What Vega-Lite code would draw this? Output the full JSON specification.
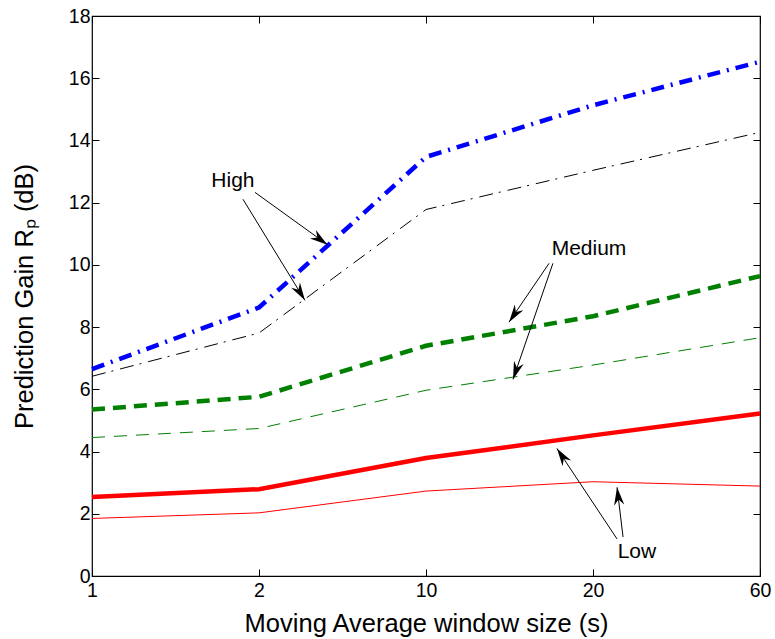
{
  "$schema": "https://vega.github.io/schema/vega-lite/v6.json",
  "width": 668,
  "height": 560,
  "autosize": "none",
  "padding": {"left": 92, "top": 16, "right": 15, "bottom": 63},
  "background": "white",
  "config": {
    "font": "Liberation Sans",
    "view": {"stroke": "black", "strokeWidth": 1.2},
    "axis": {
      "grid": false,
      "domain": false,
      "tickColor": "black",
      "tickWidth": 1,
      "tickSize": -7,
      "labelFlush": false,
      "labelColor": "black",
      "labelFont": "Liberation Sans",
      "labelFontSize": 19.5,
      "titleColor": "black",
      "titleFont": "Liberation Sans",
      "titleFontSize": 25.5,
      "titleFontWeight": "normal"
    }
  },
  "datasets": {
    "gain": [
      {"window": 1, "step": 0, "level": "High", "line": "bold", "gain": 6.65},
      {"window": 2, "step": 1, "level": "High", "line": "bold", "gain": 8.63},
      {"window": 10, "step": 2, "level": "High", "line": "bold", "gain": 13.47},
      {"window": 20, "step": 3, "level": "High", "line": "bold", "gain": 15.13},
      {"window": 60, "step": 4, "level": "High", "line": "bold", "gain": 16.53},
      {"window": 1, "step": 0, "level": "High", "line": "thin", "gain": 6.42},
      {"window": 2, "step": 1, "level": "High", "line": "thin", "gain": 7.81},
      {"window": 10, "step": 2, "level": "High", "line": "thin", "gain": 11.78},
      {"window": 20, "step": 3, "level": "High", "line": "thin", "gain": 13.04},
      {"window": 60, "step": 4, "level": "High", "line": "thin", "gain": 14.26},
      {"window": 1, "step": 0, "level": "Medium", "line": "bold", "gain": 5.35},
      {"window": 2, "step": 1, "level": "Medium", "line": "bold", "gain": 5.76},
      {"window": 10, "step": 2, "level": "Medium", "line": "bold", "gain": 7.40},
      {"window": 20, "step": 3, "level": "Medium", "line": "bold", "gain": 8.35},
      {"window": 60, "step": 4, "level": "Medium", "line": "bold", "gain": 9.64},
      {"window": 1, "step": 0, "level": "Medium", "line": "thin", "gain": 4.45},
      {"window": 2, "step": 1, "level": "Medium", "line": "thin", "gain": 4.74},
      {"window": 10, "step": 2, "level": "Medium", "line": "thin", "gain": 5.97},
      {"window": 20, "step": 3, "level": "Medium", "line": "thin", "gain": 6.78},
      {"window": 60, "step": 4, "level": "Medium", "line": "thin", "gain": 7.66},
      {"window": 1, "step": 0, "level": "Low", "line": "bold", "gain": 2.54},
      {"window": 2, "step": 1, "level": "Low", "line": "bold", "gain": 2.79},
      {"window": 10, "step": 2, "level": "Low", "line": "bold", "gain": 3.79},
      {"window": 20, "step": 3, "level": "Low", "line": "bold", "gain": 4.52},
      {"window": 60, "step": 4, "level": "Low", "line": "bold", "gain": 5.22},
      {"window": 1, "step": 0, "level": "Low", "line": "thin", "gain": 1.85},
      {"window": 2, "step": 1, "level": "Low", "line": "thin", "gain": 2.03},
      {"window": 10, "step": 2, "level": "Low", "line": "thin", "gain": 2.73},
      {"window": 20, "step": 3, "level": "Low", "line": "thin", "gain": 3.03},
      {"window": 60, "step": 4, "level": "Low", "line": "thin", "gain": 2.89}
    ],
    "labels": [
      {"text": "High", "step": 0.844, "gain": 12.69},
      {"text": "Medium", "step": 2.976, "gain": 10.50},
      {"text": "Low", "step": 3.263, "gain": 0.76}
    ],
    "arrows": [
      {"level": "High", "step": 0.976, "gain": 12.33, "tipStep": 1.41, "tipGain": 10.65, "angle": 125.6},
      {"level": "High", "step": 0.904, "gain": 12.11, "tipStep": 1.275, "tipGain": 8.86, "angle": 148.5},
      {"level": "Medium", "step": 2.737, "gain": 10.05, "tipStep": 2.497, "tipGain": 8.16, "angle": 214.1},
      {"level": "Medium", "step": 2.760, "gain": 10.05, "tipStep": 2.521, "tipGain": 6.32, "angle": 199.0},
      {"level": "Low", "step": 3.144, "gain": 1.19, "tipStep": 2.784, "tipGain": 4.10, "angle": 326.3},
      {"level": "Low", "step": 3.180, "gain": 1.25, "tipStep": 3.144, "tipGain": 2.85, "angle": 353.2}
    ]
  },
  "resolve": {"axis": {"x": "independent", "y": "independent"}},
  "layer": [
    {
      "data": {"name": "gain"},
      "transform": [{"filter": "datum.level === 'High' && datum.line === 'bold'"}],
      "mark": {"type": "line", "color": "#0000ff", "strokeWidth": 4.5, "strokeDash": [13, 7, 2, 7], "strokeCap": "butt"},
      "encoding": {
        "x": {
          "field": "step", "type": "quantitative",
          "scale": {"domain": [0, 4], "nice": false, "zero": false},
          "axis": {
            "orient": "bottom",
            "values": [0, 1, 2, 3, 4],
            "labelExpr": "datum.value == 0 ? '1' : datum.value == 1 ? '2' : datum.value == 2 ? '10' : datum.value == 3 ? '20' : '60'",
            "labelPadding": 12,
            "title": "Moving Average window size (s)",
            "titlePadding": 12
          }
        },
        "y": {
          "field": "gain", "type": "quantitative",
          "scale": {"domain": [0, 18], "nice": false},
          "axis": {
            "orient": "left",
            "values": [0, 2, 4, 6, 8, 10, 12, 14, 16, 18],
            "labelPadding": 9,
            "title": "Prediction Gain Rₚ (dB)",
            "titlePadding": 31
          }
        }
      }
    },
    {
      "data": {"name": "gain"},
      "transform": [{"filter": "datum.level === 'High' && datum.line === 'thin'"}],
      "mark": {"type": "line", "color": "#000000", "strokeWidth": 1, "strokeDash": [14, 6, 2, 7], "strokeCap": "butt"},
      "encoding": {
        "x": {"field": "step", "type": "quantitative", "axis": {"orient": "top", "values": [0, 1, 2, 3, 4], "labels": false, "title": null}},
        "y": {"field": "gain", "type": "quantitative", "axis": {"orient": "right", "values": [0, 2, 4, 6, 8, 10, 12, 14, 16, 18], "labels": false, "title": null}}
      }
    },
    {
      "data": {"name": "gain"},
      "transform": [{"filter": "datum.level === 'Medium' && datum.line === 'bold'"}],
      "mark": {"type": "line", "color": "#008000", "strokeWidth": 4.5, "strokeDash": [13, 8], "strokeCap": "butt"},
      "encoding": {
        "x": {"field": "step", "type": "quantitative", "axis": null},
        "y": {"field": "gain", "type": "quantitative", "axis": null}
      }
    },
    {
      "data": {"name": "gain"},
      "transform": [{"filter": "datum.level === 'Medium' && datum.line === 'thin'"}],
      "mark": {"type": "line", "color": "#008000", "strokeWidth": 1, "strokeDash": [13, 9], "strokeCap": "butt"},
      "encoding": {
        "x": {"field": "step", "type": "quantitative", "axis": null},
        "y": {"field": "gain", "type": "quantitative", "axis": null}
      }
    },
    {
      "data": {"name": "gain"},
      "transform": [{"filter": "datum.level === 'Low' && datum.line === 'bold'"}],
      "mark": {"type": "line", "color": "#ff0000", "strokeWidth": 4.5},
      "encoding": {
        "x": {"field": "step", "type": "quantitative", "axis": null},
        "y": {"field": "gain", "type": "quantitative", "axis": null}
      }
    },
    {
      "data": {"name": "gain"},
      "transform": [{"filter": "datum.level === 'Low' && datum.line === 'thin'"}],
      "mark": {"type": "line", "color": "#ff0000", "strokeWidth": 1},
      "encoding": {
        "x": {"field": "step", "type": "quantitative", "axis": null},
        "y": {"field": "gain", "type": "quantitative", "axis": null}
      }
    },
    {
      "data": {"name": "arrows"},
      "mark": {"type": "rule", "color": "black", "strokeWidth": 1},
      "encoding": {
        "x": {"field": "step", "type": "quantitative", "axis": null},
        "y": {"field": "gain", "type": "quantitative", "axis": null},
        "x2": {"field": "tipStep"},
        "y2": {"field": "tipGain"}
      }
    },
    {
      "data": {"name": "arrows"},
      "mark": {"type": "point", "filled": true, "color": "black", "opacity": 1, "size": 420, "shape": "M0,0 L0.5,1.75 L0,1.2 L-0.5,1.75 Z"},
      "encoding": {
        "x": {"field": "tipStep", "type": "quantitative", "axis": null},
        "y": {"field": "tipGain", "type": "quantitative", "axis": null},
        "angle": {"field": "angle", "type": "quantitative", "scale": null}
      }
    },
    {
      "data": {"name": "labels"},
      "mark": {"type": "text", "font": "Liberation Sans", "fontSize": 21, "color": "black", "align": "center", "baseline": "middle"},
      "encoding": {
        "x": {"field": "step", "type": "quantitative", "axis": null},
        "y": {"field": "gain", "type": "quantitative", "axis": null},
        "text": {"field": "text"}
      }
    }
  ]
}
